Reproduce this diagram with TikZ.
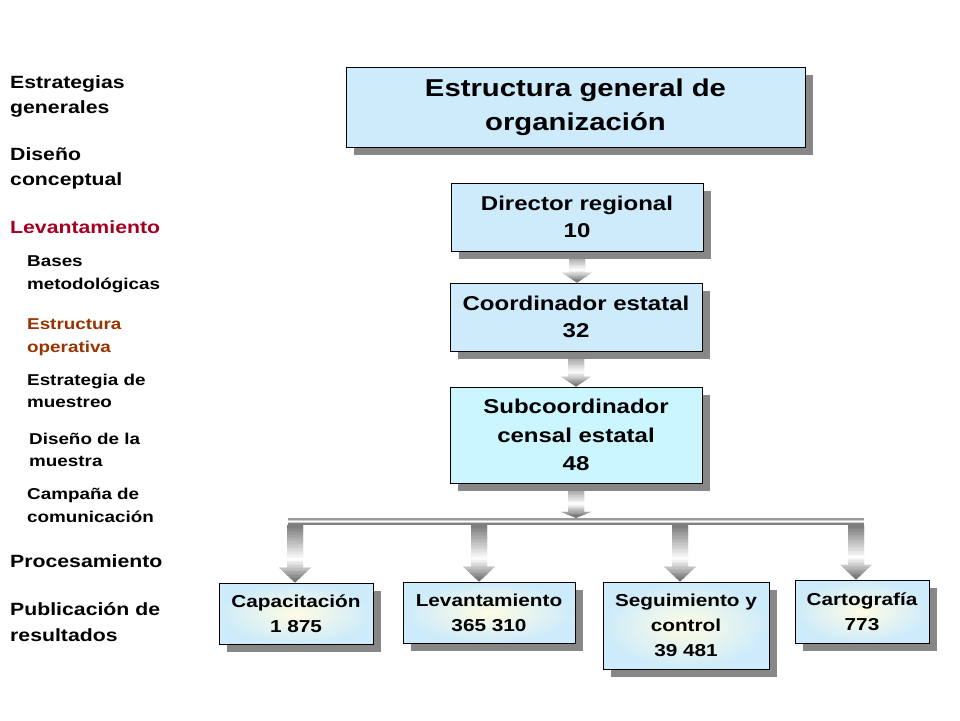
\documentclass[tikz,border=0pt]{standalone}
\usepackage{fontspec}
\setmainfont[FakeStretch=1.2]{Liberation Sans}
\usetikzlibrary{calc,shadows}
\pgfdeclarelayer{canvasbg}
\pgfdeclarelayer{background}
\pgfsetlayers{canvasbg,background,main}
\definecolor{boxblue}{HTML}{CDEBFB}
\definecolor{boxcyan}{HTML}{CCF6FF}
\definecolor{levred}{HTML}{A50021}
\definecolor{estbrown}{HTML}{993300}
\definecolor{shadowgray}{HTML}{878787}
\definecolor{warm}{HTML}{FFFCE4}
\tikzset{
  boxshadow/.style={drop shadow={shadow xshift=8pt, shadow yshift=-8pt, fill=shadowgray, opacity=1}},
  orgbox/.style={draw=black, line width=0.9pt, fill=boxblue, align=center, inner sep=0pt, boxshadow},
  titlefont/.style={font=\fontsize{24.4}{34}\selectfont\bfseries},
  midfont/.style={font=\fontsize{20}{27}\selectfont\bfseries},
  lowbox/.style={draw=black, line width=0.9pt, align=center, inner sep=0pt, boxshadow,
     inner color=warm, outer color=boxblue, font=\fontsize{17.3}{25}\selectfont\bfseries},
  side/.style={anchor=base west, inner sep=0pt, font=\fontsize{17.7}{20}\selectfont\bfseries},
  sidesub/.style={anchor=base west, inner sep=0pt, font=\fontsize{15.7}{18}\selectfont\bfseries},
}
% shaded block arrow, drawn as clipped strips:
% start coordinate, end coordinate, half shaft, half head, head length
\newcommand\grarrow[5]{%
  \path (#1); \pgfgetlastxy{\gax}{\gatop}%
  \path (#2); \pgfgetlastxy{\gbx}{\gabot}%
  \begin{scope}
    \clip (\gax-#3,\gatop) -- (\gax+#3,\gatop) -- (\gax+#3,\gabot+#5) -- (\gax+#4,\gabot+#5)
      -- (\gax,\gabot) -- (\gax-#4,\gabot+#5) -- (\gax-#3,\gabot+#5) -- cycle;
    \foreach \k in {0,...,39}{%
      \pgfmathsetmacro\gt{\k/39}%
      \pgfmathsetmacro\gpct{\gt<0.6 ? 52*(1-\gt/0.6) : 58*(\gt-0.6)/0.4}%
      \fill[black!\gpct] (\gax-20pt,{\gatop+(\gabot-\gatop)*\k/40})
        rectangle (\gax+20pt,{\gatop+(\gabot-\gatop)*(\k+1)/40-1.2pt});
    }
  \end{scope}}
\begin{document}
\begin{tikzpicture}[x=1pt,y=-1pt]
\begin{pgfonlayer}{canvasbg}
\fill[white] (0,0) rectangle (960,720);
\end{pgfonlayer}
\useasboundingbox (0,0) rectangle (960,720);

% sidebar
\node[side] (s1) at (10,88) {Estrategias};
\node[side] (s2) at (10,113) {generales};
\node[side] (s3) at (10,160) {Diseño};
\node[side] (s4) at (10,185) {conceptual};
\node[side, text=levred] (s5) at (10,233) {Levantamiento};
\node[sidesub] (s6) at (27,266) {Bases};
\node[sidesub] (s7) at (27,289) {metodológicas};
\node[sidesub, text=estbrown] (s8) at (27,329) {Estructura};
\node[sidesub, text=estbrown] (s9) at (27,352) {operativa};
\node[sidesub] (s10) at (27,385) {Estrategia de};
\node[sidesub] (s11) at (27,407) {muestreo};
\node[sidesub] (s12) at (29,444) {Diseño de la};
\node[sidesub] (s13) at (29,466) {muestra};
\node[sidesub] (s14) at (27,499) {Campaña de};
\node[sidesub] (s15) at (27,522) {comunicación};
\node[side] (s16) at (10,567) {Procesamiento};
\node[side] (s17) at (10,615) {Publicación de};
\node[side] (s18) at (10,641) {resultados};

% main boxes
\node[orgbox, titlefont, minimum width=459pt, minimum height=80pt] (title) at (575.5,107)
  {Estructura general de\\organización};
\node[orgbox, midfont, minimum width=252pt, minimum height=68pt] (dir) at (577,217)
  {Director regional\\10};
\node[orgbox, midfont, minimum width=252pt, minimum height=68pt] (coord) at (576,317)
  {Coordinador estatal\\32};
\node[orgbox, fill=boxcyan, font=\fontsize{20}{28.5}\selectfont\bfseries,
  minimum width=252pt, minimum height=96pt] (sub) at (576,435)
  {Subcoordinador\\censal estatal\\48};

% distribution bar
\node[fill=white, minimum width=576pt, minimum height=7pt, inner sep=0pt] (bar) at (576,521.5) {};
\fill[black!40] (bar.north west) rectangle ($(bar.north east)+(0,2)$);
\fill[black!20] ($(bar.north west)+(0,2)$) rectangle ($(bar.north east)+(0,3)$);
\fill[black!20] ($(bar.south west)+(0,-3)$) rectangle ($(bar.south east)+(0,-2)$);
\fill[black!50] ($(bar.south west)+(0,-2)$) rectangle (bar.south east);

% bottom boxes
\node[lowbox, minimum width=154pt, minimum height=61pt] (cap) at (296,613.5) {Capacitación\\1 875};
\node[lowbox, minimum width=172pt, minimum height=61pt] (lev) at (489,612.5) {Levantamiento\\365 310};
\node[lowbox, minimum width=166pt, minimum height=87pt] (seg) at (686,625.5) {Seguimiento y\\control\\39 481};
\node[lowbox, minimum width=134pt, minimum height=63pt] (car) at (862,611.5) {Cartografía\\773};

\coordinate (b1) at (295,525);
\coordinate (b2) at (479,525);
\coordinate (b3) at (680,525);
\coordinate (b4) at (856,525);

\begin{pgfonlayer}{background}
  \grarrow{dir.south}{coord.north}{8pt}{15pt}{10pt}
  \grarrow{coord.south}{sub.north}{8pt}{15pt}{10pt}
  \grarrow{sub.south}{bar.north}{8pt}{15pt}{6pt}
  \grarrow{b1}{cap.north}{8pt}{16pt}{15pt}
  \grarrow{b2}{lev.north}{8pt}{16pt}{15pt}
  \grarrow{b3}{seg.north}{8pt}{16pt}{15pt}
  \grarrow{b4}{car.north}{8pt}{16pt}{15pt}
\end{pgfonlayer}
\end{tikzpicture}
\end{document}
